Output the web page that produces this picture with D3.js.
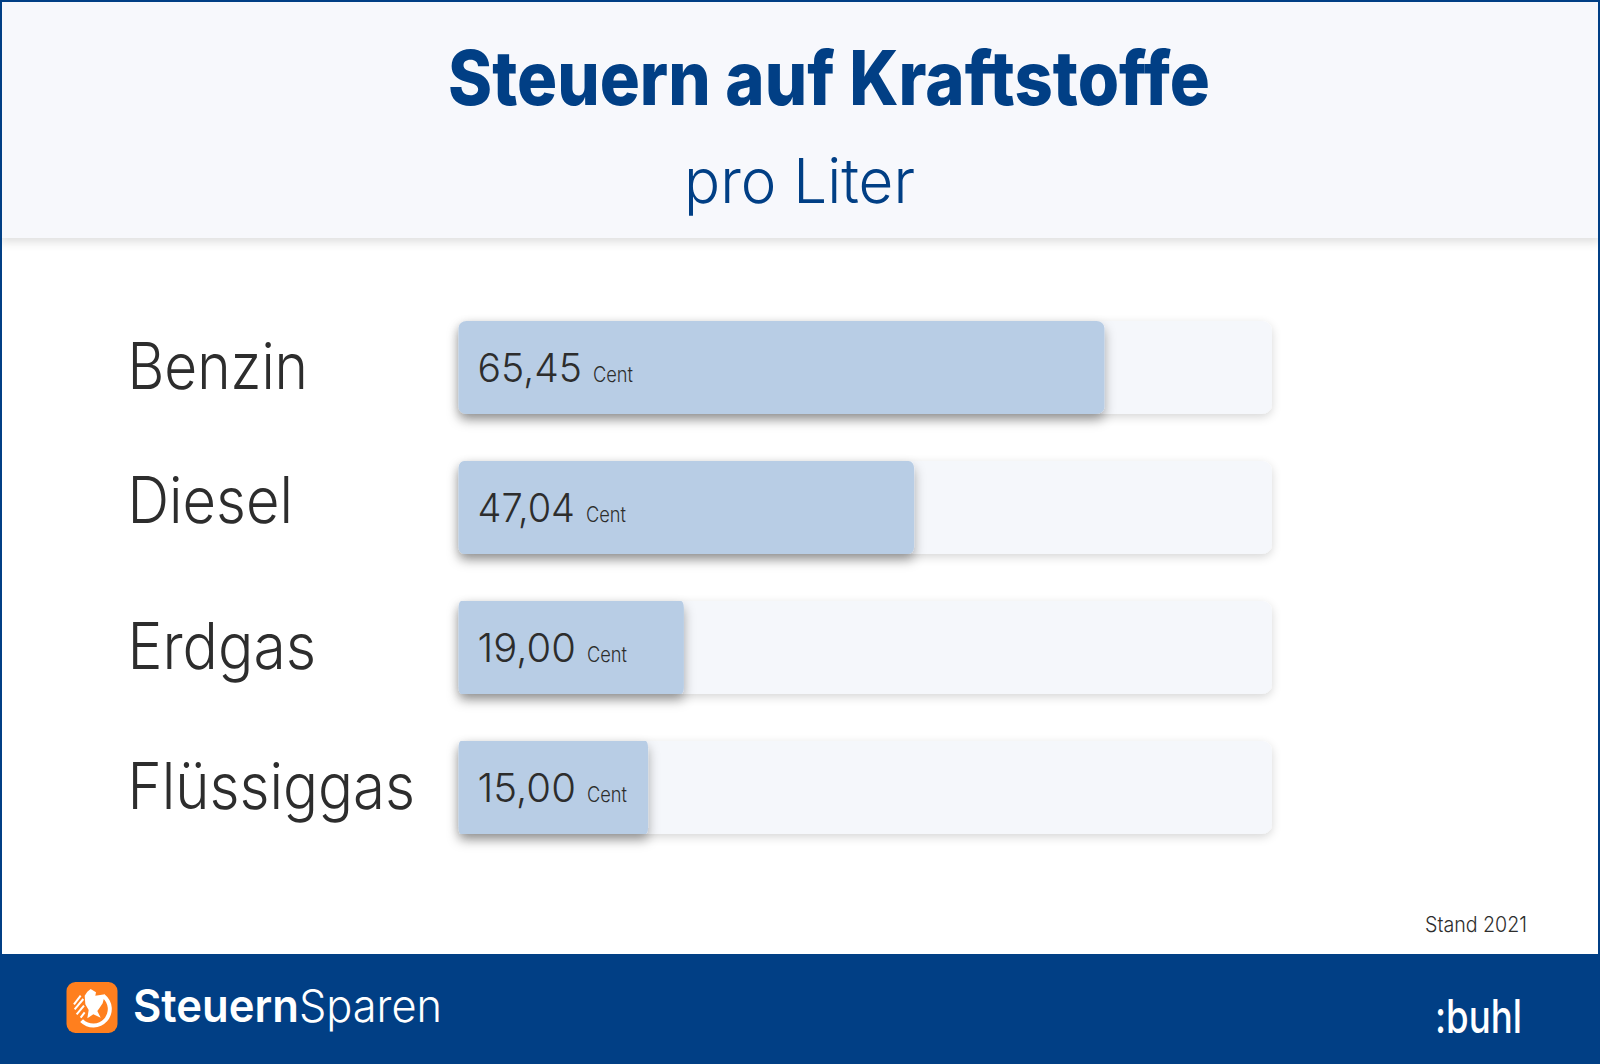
<!DOCTYPE html>
<html>
<head>
<meta charset="utf-8">
<script src="https://d3js.org/d3.v7.min.js"></script>
<style>
html, body { margin: 0; padding: 0; background: #fff; }
svg { display: block; }
text { font-family: Inter, "Noto Sans", sans-serif; }
</style>
</head>
<body>
<script>
var categories = ["Benzin", "Diesel", "Erdgas", "Flüssiggas"];
var valueLabels = ["65,45", "47,04", "19,00", "15,00"];
var unitLabel = "Cent";
// fill of each track in percent (lengths do not follow the printed cents)
var fillPercent = [79.4, 56.0, 27.7, 23.3];

var titleText = "Steuern auf Kraftstoffe";
var subtitleText = "pro Liter";
var noteText = "Stand 2021";

var navy = "#013f85", ink = "#2d2d2d";

var svg = d3.select("body").append("svg").attr("width", 1600).attr("height", 1064);
var defs = svg.append("defs");

function shadow(id, dy, blur, color, op) {
  var f = defs.append("filter").attr("id", id)
    .attr("x", "-10%").attr("y", "-30%").attr("width", "120%").attr("height", "170%");
  f.append("feDropShadow").attr("dx", 0).attr("dy", dy).attr("stdDeviation", blur)
    .attr("flood-color", color).attr("flood-opacity", op);
}
shadow("headShadow", 4, 5, "#000", 0.13);
shadow("trackShadow", 3, 5, "#000", 0.16);
shadow("fillShadow", 6, 6, "#000", 0.34);

// fit a text to the width it has in the picture
function fit(sel, w) {
  return sel.attr("textLength", w).attr("lengthAdjust", "spacingAndGlyphs");
}

// header
svg.append("rect").attr("x", 0).attr("y", 0).attr("width", 1600).attr("height", 238)
  .attr("fill", "#f7f8fc").attr("filter", "url(#headShadow)");

svg.append("text").attr("x", 448).attr("y", 105).text(titleText)
  .attr("font-size", 75).attr("font-weight", 800).attr("fill", navy).call(fit, 762);
svg.append("text").attr("x", 684).attr("y", 203).text(subtitleText)
  .attr("font-size", 62).attr("font-weight", 300).attr("fill", navy).call(fit, 231);

// scales
var x = d3.scaleLinear().domain([0, 100]).range([458.5, 1272]);
var y = d3.scaleBand().domain(categories).range([321, 834]).paddingInner(47 / 140);

var rows = svg.selectAll("g.row").data(categories).enter().append("g").attr("class", "row");

rows.append("rect")
  .attr("x", x(0)).attr("y", function(d) { return y(d); })
  .attr("width", x(100) - x(0)).attr("height", y.bandwidth())
  .attr("rx", 10).attr("fill", "#f5f7fb").attr("filter", "url(#trackShadow)");

// corners get narrower with the bar, as in the picture
rows.append("rect")
  .attr("x", x(0)).attr("y", function(d) { return y(d); })
  .attr("width", function(d, i) { return x(fillPercent[i]) - x(0); })
  .attr("height", y.bandwidth())
  .attr("rx", function(d, i) { return (x(fillPercent[i]) - x(0)) * 0.0125; }).attr("ry", 7)
  .attr("fill", "#b8cde5").attr("filter", "url(#fillShadow)");

var labelWidths = [180.5, 165.5, 188.5, 287.5];
rows.append("text")
  .attr("x", 127.5)
  .attr("y", function(d) { return y(d) + (d === "Diesel" ? 62 : 68); })
  .text(function(d) { return d; })
  .attr("font-size", 64).attr("font-weight", 300).attr("fill", ink)
  .each(function(d, i) { d3.select(this).call(fit, labelWidths[i]); });

var numWidths = [104.5, 97.5, 98.5, 98.5];
rows.append("text")
  .attr("x", x(0) + 19)
  .attr("y", function(d) { return y(d) + 61; })
  .text(function(d, i) { return valueLabels[i]; })
  .attr("font-size", 40).attr("font-weight", 300).attr("fill", ink)
  .each(function(d, i) { d3.select(this).call(fit, numWidths[i]); });

rows.append("text")
  .attr("x", function(d, i) { return x(0) + 19 + numWidths[i] + 11; })
  .attr("y", function(d) { return y(d) + 61; })
  .text(unitLabel)
  .attr("font-size", 21).attr("font-weight", 300).attr("fill", ink)
  .call(fit, 40);

svg.append("text").attr("x", 1425).attr("y", 932).text(noteText)
  .attr("font-size", 21).attr("font-weight", 300).attr("fill", ink).call(fit, 102);

// footer and frame
svg.append("rect").attr("x", 0).attr("y", 954).attr("width", 1600).attr("height", 110).attr("fill", navy);
svg.append("rect").attr("x", 1).attr("y", 1).attr("width", 1598).attr("height", 1000)
  .attr("fill", "none").attr("stroke", navy).attr("stroke-width", 2);

// logo
var logo = svg.append("g").attr("transform", "translate(92,1007.5)");
logo.append("rect").attr("x", -25.5).attr("y", -25.5).attr("width", 51).attr("height", 51)
  .attr("rx", 9).attr("fill", "#ff7f1e");
logo.append("path")
  .attr("transform", "translate(1.3,1.5)")
  .attr("d", d3.arc()({ innerRadius: 14.5, outerRadius: 18.5, startAngle: 0.67, endAngle: 3.93 }))
  .attr("fill", "#fff");
var bird = logo.append("g").attr("transform", "translate(-32,-32.5) scale(0.3333)");
bird.append("path")
  .attr("d", "M82,50 L92,42 L108,52 L106,62 L135,58 L128,85 L118,100 L112,108 L122,128 L100,118 L82,130 L86,105 L76,88 L74,62 Z")
  .attr("fill", "#fff");
[[42, 88, 62, 62], [44, 103, 70, 72], [50, 118, 72, 92], [62, 128, 74, 112]].forEach(function(s) {
  bird.append("line").attr("x1", s[0]).attr("y1", s[1]).attr("x2", s[2]).attr("y2", s[3])
    .attr("stroke", "#fff").attr("stroke-width", 6);
});

var brand = svg.append("g").attr("fill", "#fff");
brand.append("text").attr("x", 133).attr("y", 1022).text("Steuern")
  .attr("font-size", 45).attr("font-weight", 600).call(fit, 166);
brand.append("text").attr("x", 299).attr("y", 1022).text("Sparen")
  .attr("font-size", 45).attr("font-weight", 300).call(fit, 143);
brand.append("text").attr("x", 1435).attr("y", 1033).text(":buhl")
  .attr("font-size", 46).attr("font-weight", 500).call(fit, 87);
</script>
</body>
</html>
